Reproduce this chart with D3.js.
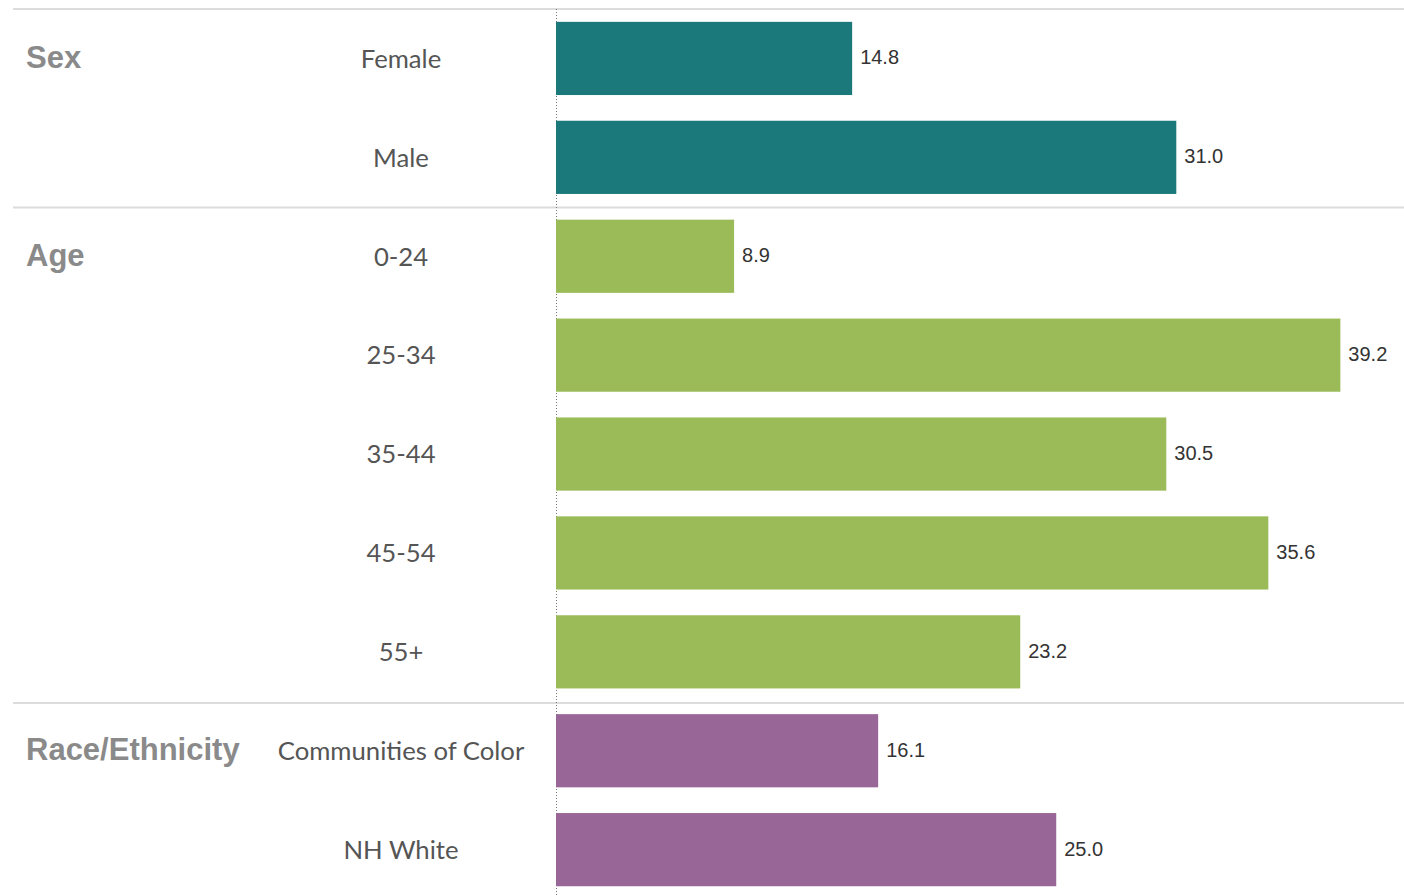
<!DOCTYPE html>
<html>
<head>
<meta charset="utf-8">
<script src="https://cdn.jsdelivr.net/npm/d3@7"></script>
<style>
  body { margin: 0; background: #fff; }
  .cat { font-family: Lato, "Open Sans", sans-serif; fill: #555; }
  .grp { font-family: "Liberation Sans", Arial, sans-serif; font-weight: bold; fill: #8a8a8a; }
  .val { font-family: "Liberation Sans", Arial, sans-serif; fill: #333; }
</style>
</head>
<body>
<svg id="chart" width="1404" height="895"></svg>
<script>
// data
let groups = ["Sex", "Sex", "Age", "Age", "Age", "Age", "Age", "Race/Ethnicity", "Race/Ethnicity"]
let categories = ["Female", "Male", "0-24", "25-34", "35-44", "45-54", "55+", "Communities of Color", "NH White"]
let values = [14.8, 31.0, 8.9, 39.2, 30.5, 35.6, 23.2, 16.1, 25.0]
let groupNames = ["Sex", "Age", "Race/Ethnicity"]
let groupColors = ["#1b797c", "#9bbb59", "#986697"]

let svg = d3.select("#chart")
let margin = { top: 9, left: 556, right: 0 }
let width = 1404 - margin.left
let rowH = 98.9

let rows = categories.map((c, i) => ({ cat: c, group: groups[i], value: values[i] }))

let y = d3.scaleBand()
    .domain(categories)
    .range([margin.top, margin.top + rowH * categories.length])
    .paddingInner(0.26)
    .paddingOuter(0.13)

let x = d3.scaleLinear()
    .domain([0, 42.38])
    .range([margin.left, margin.left + width])

let color = d3.scaleOrdinal().domain(groupNames).range(groupColors)

// separators at start of each group
let firstOf = groupNames.map(g => categories[groups.indexOf(g)])
svg.append("g").selectAll("line")
    .data(firstOf)
    .enter().append("line")
      .attr("x1", 13)
      .attr("x2", 1404)
      .attr("y1", (d, i) => y(d) - y.step() * y.paddingOuter() + i * 0.8)
      .attr("y2", (d, i) => y(d) - y.step() * y.paddingOuter() + i * 0.8)
      .style("stroke", "#dcdcdc")
      .style("stroke-width", 2)

// dotted baseline
svg.append("line")
    .attr("x1", x(0) + 0.5).attr("x2", x(0) + 0.5)
    .attr("y1", margin.top).attr("y2", 895)
    .style("stroke", "#777")
    .style("stroke-width", 1)
    .style("stroke-dasharray", "1,2")

svg.append("g").selectAll("rect")
    .data(rows)
    .enter().append("rect")
      .attr("x", x(0))
      .attr("y", d => y(d.cat))
      .attr("width", d => x(d.value) - x(0))
      .attr("height", y.bandwidth())
      .style("fill", d => color(d.group))

svg.append("g").selectAll("text")
    .data(rows)
    .enter().append("text")
      .attr("class", "val")
      .attr("x", d => x(d.value) + 8)
      .attr("y", d => y(d.cat) + y.bandwidth() / 2)
      .attr("dy", "0.3em")
      .style("font-size", "20px")
      .text(d => d.value.toFixed(1))

svg.append("g").selectAll("text")
    .data(rows)
    .enter().append("text")
      .attr("class", "cat")
      .attr("x", 401)
      .attr("y", d => y(d.cat) + y.bandwidth() / 2)
      .attr("dy", "0.36em")
      .style("font-size", "25.7px")
      .style("text-anchor", "middle")
      .text(d => d.cat)

svg.append("g").selectAll("text")
    .data(firstOf)
    .enter().append("text")
      .attr("class", "grp")
      .attr("x", 26)
      .attr("y", (d, i) => y(d) + y.bandwidth() / 2)
      .attr("dy", "0.3em")
      .style("font-size", "31px")
      .text((d, i) => groupNames[i])
</script>
</body>
</html>
